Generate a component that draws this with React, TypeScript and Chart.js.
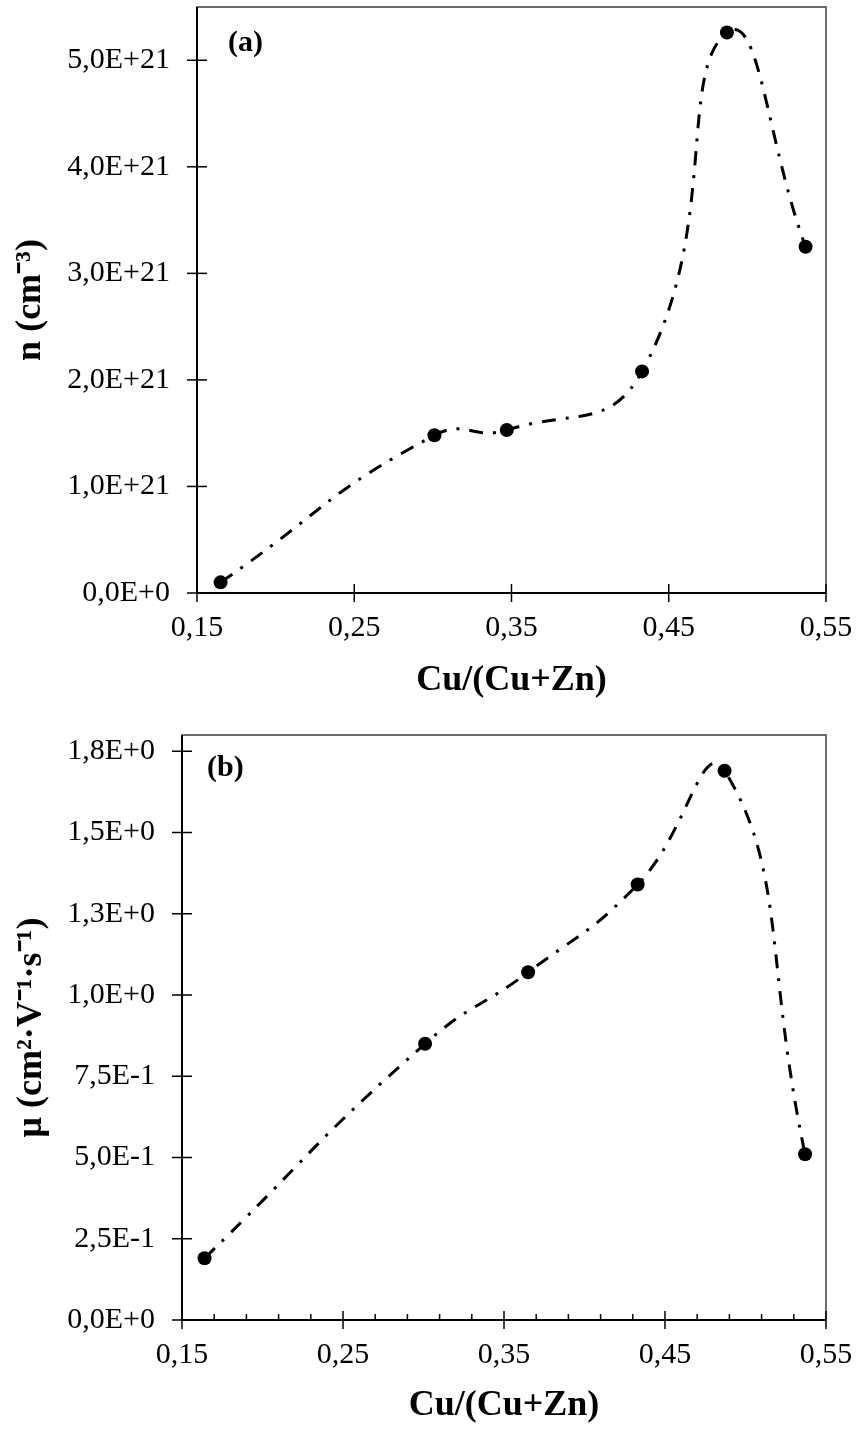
import React, { useEffect, useRef } from "react";
import { Chart, registerables } from "chart.js";

Chart.register(...registerables);

// ---- data ----
const xTop = [0.165, 0.301, 0.347, 0.433, 0.487, 0.537];
const nValues = [0.1e21, 1.48e21, 1.53e21, 2.08e21, 5.26e21, 3.25e21];

const xBottom = [0.164, 0.301, 0.365, 0.433, 0.487, 0.537];
const muValues = [0.19, 0.85, 1.07, 1.34, 1.69, 0.51];

const xTicks = [0.15, 0.25, 0.35, 0.45, 0.55];
const xTickLabels = ["0,15", "0,25", "0,35", "0,45", "0,55"];

const nTicks = [0, 1e21, 2e21, 3e21, 4e21, 5e21];
const nTickLabels = ["0,0E+0", "1,0E+21", "2,0E+21", "3,0E+21", "4,0E+21", "5,0E+21"];

const muTicks = [0, 0.25, 0.5, 0.75, 1, 1.25, 1.5, 1.75];
const muTickLabels = ["0,0E+0", "2,5E-1", "5,0E-1", "7,5E-1", "1,0E+0", "1,3E+0", "1,5E+0", "1,8E+0"];

const SERIF = "'Liberation Serif', 'Times New Roman', serif";

const decorPlugin = {
  id: "panelDecor",
  beforeDatasetsDraw(chart: any, _args: any, opts: any) {
    const { ctx, chartArea: a, scales } = chart;
    const line = (x1: number, y1: number, x2: number, y2: number) => {
      ctx.beginPath();
      ctx.moveTo(x1, y1);
      ctx.lineTo(x2, y2);
      ctx.stroke();
    };
    ctx.save();
    ctx.strokeStyle = "#3c3c3c";
    ctx.lineWidth = 1.5;
    ctx.strokeRect(a.left, a.top, a.right - a.left, a.bottom - a.top);
    ctx.strokeStyle = "#000";
    ctx.lineWidth = 2;
    line(a.left, a.top, a.left, a.bottom);
    line(a.left, a.bottom, a.right, a.bottom);
    ctx.lineWidth = 1.5;
    for (const v of opts.yTicks) {
      const py = scales.y.getPixelForValue(v);
      line(a.left - 10, py, a.left + 10, py);
    }
    for (const v of opts.xTicks) {
      const px = scales.x.getPixelForValue(v);
      line(px, a.bottom - 9, px, a.bottom + 9);
    }
    if (opts.minorStep) {
      const min = scales.x.min;
      const max = scales.x.max;
      const n = Math.round((max - min) / opts.minorStep);
      for (let i = 1; i < n; i++) {
        if (i % 5 === 0) continue;
        const px = scales.x.getPixelForValue(min + i * opts.minorStep);
        line(px, a.bottom - 6, px, a.bottom);
      }
    }
    ctx.restore();
  },
  afterDraw(chart: any, _args: any, opts: any) {
    const { ctx, chartArea: a } = chart;
    ctx.save();
    ctx.fillStyle = "#000";
    ctx.font = `bold 30px ${SERIF}`;
    ctx.textAlign = "left";
    ctx.textBaseline = "middle";
    ctx.fillText(opts.label, a.left + opts.labelDx, a.top + opts.labelDy);
    ctx.restore();
  },
};

type PanelProps = {
  xs: number[];
  ys: number[];
  yTicks: number[];
  yTickLabels: string[];
  yMax: number;
  yTitle: string;
  label: string;
  labelDx: number;
  labelDy: number;
  height: number;
  padTop: number;
  yWidth: number;
  xHeight: number;
  yTitlePad: number;
  xTitlePad: number;
  minorStep: number;
};

function findLabel(values: number[], labels: string[], v: number) {
  const i = values.findIndex((t) => Math.abs(t - v) < 1e-9 * Math.max(1, Math.abs(t)));
  return i >= 0 ? labels[i] : "";
}

function Panel(p: PanelProps) {
  const ref = useRef<HTMLCanvasElement | null>(null);
  useEffect(() => {
    if (!ref.current) return;
    const tickFont = { family: SERIF, size: 30 };
    const titleFont = { family: SERIF, size: 36, weight: "bold" as const };
    const chart = new Chart(ref.current, {
      type: "scatter",
      data: {
        datasets: [
          {
            data: p.xs.map((x, i) => ({ x, y: p.ys[i] })),
            showLine: true,
            borderColor: "#000",
            borderWidth: 3,
            borderDash: [14, 10, 3, 10],
            tension: 0.5,
            pointRadius: 7,
            pointHoverRadius: 7,
            pointBackgroundColor: "#000",
            pointBorderWidth: 0,
          } as any,
        ],
      },
      options: {
        animation: false,
        responsive: false,
        maintainAspectRatio: false,
        devicePixelRatio: 1,
        events: [],
        layout: { padding: { top: p.padTop, right: 36, left: 0, bottom: 0 } },
        plugins: {
          legend: { display: false },
          tooltip: { enabled: false },
          panelDecor: {
            yTicks: p.yTicks,
            xTicks: xTicks,
            minorStep: p.minorStep,
            label: p.label,
            labelDx: p.labelDx,
            labelDy: p.labelDy,
          },
        } as any,
        scales: {
          x: {
            type: "linear",
            min: 0.15,
            max: 0.55,
            afterBuildTicks: (s: any) => {
              s.ticks = xTicks.map((v) => ({ value: v }));
            },
            afterFit: (s: any) => {
              s.height = p.xHeight;
              s.paddingLeft = 0;
              s.paddingRight = 0;
            },
            grid: { display: false, drawTicks: false },
            border: { display: false },
            ticks: {
              callback: (v: any) => findLabel(xTicks, xTickLabels, Number(v)),
              font: tickFont,
              color: "#000",
              padding: 17,
              maxRotation: 0,
              autoSkip: false,
            },
            title: {
              display: true,
              text: "Cu/(Cu+Zn)",
              font: titleFont,
              color: "#000",
              padding: { top: 0, bottom: p.xTitlePad },
            },
          },
          y: {
            type: "linear",
            min: 0,
            max: p.yMax,
            afterBuildTicks: (s: any) => {
              s.ticks = p.yTicks.map((v) => ({ value: v }));
            },
            afterFit: (s: any) => {
              s.width = p.yWidth;
              s.paddingTop = 0;
              s.paddingBottom = 0;
            },
            grid: { display: false, drawTicks: false },
            border: { display: false },
            ticks: {
              callback: (v: any) => findLabel(p.yTicks, p.yTickLabels, Number(v)),
              font: tickFont,
              color: "#000",
              padding: 27,
              autoSkip: false,
            },
            title: {
              display: true,
              text: p.yTitle,
              font: titleFont,
              color: "#000",
              padding: { top: p.yTitlePad, bottom: 0 },
            },
          },
        },
      },
      plugins: [decorPlugin as any],
    });
    return () => chart.destroy();
  }, []);
  return (
    <canvas
      ref={ref}
      width={862}
      height={p.height}
      style={{ display: "block", width: 862, height: p.height }}
    />
  );
}

export default function App() {
  return (
    <div style={{ position: "absolute", left: 0, top: 0, width: 862, height: 1432, background: "#fff" }}>
      <Panel
        xs={xTop}
        ys={nValues}
        yTicks={nTicks}
        yTickLabels={nTickLabels}
        yMax={5.5e21}
        yTitle="n (cm⁻³)"
        label="(a)"
        labelDx={31}
        labelDy={36}
        height={720}
        padTop={7}
        yWidth={197}
        xHeight={127}
        yTitlePad={9}
        xTitlePad={18}
        minorStep={0}
      />
      <Panel
        xs={xBottom}
        ys={muValues}
        yTicks={muTicks}
        yTickLabels={muTickLabels}
        yMax={1.8}
        yTitle="μ (cm²·V⁻¹·s⁻¹)"
        label="(b)"
        labelDx={25}
        labelDy={33}
        height={712}
        padTop={15}
        yWidth={182}
        xHeight={112}
        yTitlePad={10}
        xTitlePad={5}
        minorStep={0.02}
      />
    </div>
  );
}
